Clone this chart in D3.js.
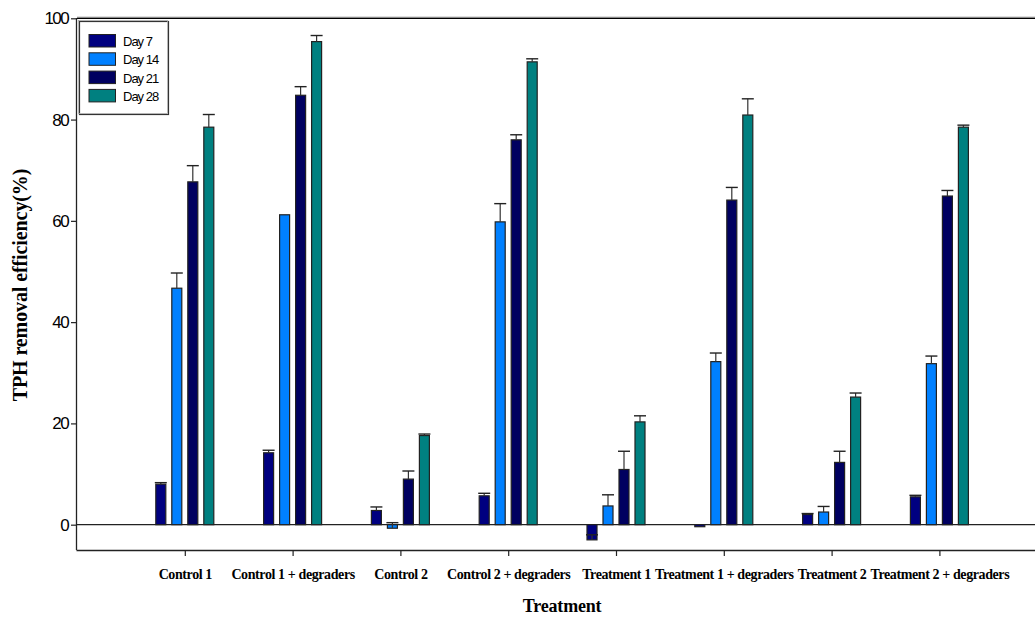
<!DOCTYPE html>
<html><head><meta charset="utf-8">
<script src="https://cdn.jsdelivr.net/npm/d3@7/dist/d3.min.js"></script>
<style>body{margin:0;background:#fff}svg{display:block}</style>
</head><body>
<svg id="chart" width="1035" height="617"></svg>
<script>
const categories = ["Control 1","Control 1 + degraders","Control 2","Control 2 + degraders","Treatment 1","Treatment 1 + degraders","Treatment 2","Treatment 2 + degraders"];
const seriesNames = ["Day 7","Day 14","Day 21","Day 28"];
const day7  = [8.0, 14.2, 2.8, 5.7, -3.0, -0.4, 2.0, 5.5];
const day14 = [46.7, 61.2, -0.7, 59.8, 3.7, 32.2, 2.5, 31.8];
const day21 = [67.7, 84.8, 9.0, 76.0, 10.9, 64.1, 12.3, 64.9];
const day28 = [78.5, 95.4, 17.6, 91.4, 20.3, 80.9, 25.2, 78.5];
const err7  = [0.3, 0.5, 0.7, 0.5, 1.0, 0.0, 0.2, 0.3];
const err14 = [3.0, 0.0, 1.1, 3.6, 2.2, 1.7, 1.1, 1.5];
const err21 = [3.2, 1.7, 1.6, 1.0, 3.6, 2.5, 2.2, 1.1];
const err28 = [2.5, 1.2, 0.3, 0.6, 1.2, 3.2, 0.8, 0.4];
const yTicks = [0, 20, 40, 60, 80, 100];
const colors = ["#000080", "#0080ff", "#000060", "#008080"];

const values = [day7, day14, day21, day28];
const errors = [err7, err14, err21, err28];

const svg = d3.select("#chart");
const mLeft = 77, mTop = 18, mBottom = 550;
const x = d3.scaleLinear().domain([0, 9]).range([mLeft, mLeft + 9 * 107.8]);
const y = d3.scaleLinear().domain([-5, 100]).range([mBottom, mTop + 0.3]);
const offsets = d3.scaleLinear().domain([0, 3]).range([-24, 24]);
const barW = 10;

// frame top line
svg.append("line").attr("x1", mLeft).attr("x2", 1035).attr("y1", y(100)).attr("y2", y(100))
  .attr("stroke", "#000").attr("stroke-width", 1.6);
svg.append("line").attr("x1", mLeft).attr("x2", 1035).attr("y1", y(100) - 1.2).attr("y2", y(100) - 1.2)
  .attr("stroke", "#999").attr("stroke-width", 0.8);

// zero line
svg.append("line").attr("x1", mLeft).attr("x2", 1035).attr("y1", y(0)).attr("y2", y(0))
  .attr("stroke", "#222").attr("stroke-width", 1.3);

// bars
const data = [];
categories.forEach((c, i) => {
  values.forEach((s, j) => {
    data.push({i, j, v: s[i], e: errors[j][i]});
  });
});

const g = svg.append("g");
g.selectAll("rect.bar").data(data).enter().append("rect")
  .attr("class", "bar")
  .attr("x", d => x(d.i + 1) + offsets(d.j) - barW / 2)
  .attr("width", barW)
  .attr("y", d => Math.min(y(d.v), y(0)))
  .attr("height", d => Math.abs(y(d.v) - y(0)))
  .attr("fill", d => colors[d.j])
  .attr("stroke", "#222").attr("stroke-width", 1.2);

// error bars (upward, value + err)
const eb = g.selectAll("g.err").data(data.filter(d => d.e > 0)).enter().append("g").attr("class", "err");
eb.append("line")
  .attr("x1", d => x(d.i + 1) + offsets(d.j)).attr("x2", d => x(d.i + 1) + offsets(d.j))
  .attr("y1", d => y(d.v)).attr("y2", d => y(d.v + d.e))
  .attr("stroke", "#333").attr("stroke-width", 1.2);
eb.append("line")
  .attr("x1", d => x(d.i + 1) + offsets(d.j) - 6).attr("x2", d => x(d.i + 1) + offsets(d.j) + 6)
  .attr("y1", d => y(d.v + d.e)).attr("y2", d => y(d.v + d.e))
  .attr("stroke", "#222").attr("stroke-width", 1.4);

// y axis
const yAxis = d3.axisLeft(y).tickValues(yTicks).tickSize(6).tickPadding(3).tickFormat(d3.format("d"));
const ya = svg.append("g").attr("transform", `translate(${mLeft},0)`).call(yAxis);
ya.select(".domain").attr("d", `M-0.5,${mTop}V${mBottom}`).attr("stroke", "#222").attr("stroke-width", 1.3);
ya.selectAll(".tick line").attr("stroke", "#222").attr("stroke-width", 1.2);
ya.selectAll("text").attr("font-family", "Liberation Sans, Arial, sans-serif").attr("font-size", 17)
  .attr("letter-spacing", "-1.6px").attr("fill", "#000");

// x axis
const xAxis = d3.axisBottom(x).tickValues(d3.range(1, 9)).tickSize(6).tickPadding(13)
  .tickFormat(d => categories[d - 1]);
const xa = svg.append("g").attr("transform", `translate(0,${mBottom})`).call(xAxis);
xa.select(".domain").attr("d", `M${mLeft - 0.5},0.5H1035`).attr("stroke", "#222").attr("stroke-width", 1.3);
xa.selectAll(".tick line").attr("stroke", "#222").attr("stroke-width", 1.2);
xa.selectAll("text").attr("font-family", "Liberation Serif, Times New Roman, serif").attr("font-weight", "bold")
  .attr("font-size", 14).attr("letter-spacing", "-0.4px").attr("fill", "#000");

// axis titles
svg.append("text").attr("x", x(4.5)).attr("y", 612).attr("text-anchor", "middle")
  .attr("font-family", "Liberation Serif, Times New Roman, serif").attr("font-weight", "bold")
  .attr("font-size", 18).attr("letter-spacing", "-0.2px").text("Treatment");
svg.append("text").attr("transform", `translate(27,285) rotate(-90)`)
  .attr("text-anchor", "middle")
  .attr("font-family", "Liberation Serif, Times New Roman, serif").attr("font-weight", "bold")
  .attr("font-size", 20).attr("letter-spacing", "-0.1px").text("TPH removal efficiency(%)");

// legend
const lg = svg.append("g");
lg.append("rect").attr("x", 79.5).attr("y", 21.5).attr("width", 89).attr("height", 93)
  .attr("fill", "#fff").attr("stroke", "#333").attr("stroke-width", 1.2);
lg.append("rect").attr("x", 78.5).attr("y", 20.5).attr("width", 89).attr("height", 93)
  .attr("fill", "none").attr("stroke", "#aaa").attr("stroke-width", 0.8);
const items = lg.selectAll("g.item").data(seriesNames).enter().append("g")
  .attr("transform", (d, i) => `translate(89,${34.5 + i * 18.3})`);
items.append("rect").attr("width", 26.5).attr("height", 12.5)
  .attr("fill", (d, i) => colors[i]).attr("stroke", "#222").attr("stroke-width", 1);
items.append("text").attr("x", 34).attr("y", 11.5).attr("font-family", "Liberation Sans, Arial, sans-serif")
  .attr("font-size", 13).attr("letter-spacing", "-1px").text(d => d);
</script>
</body></html>
